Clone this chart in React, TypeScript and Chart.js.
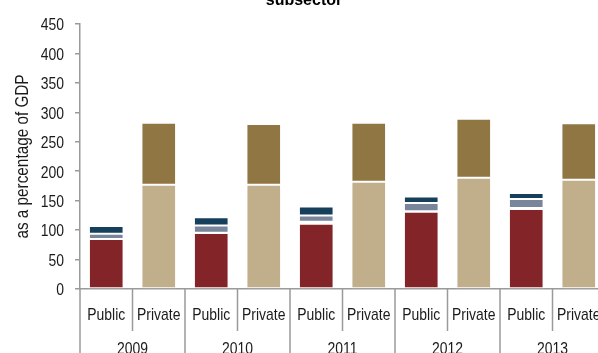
import React, { useEffect, useRef } from "react";
import { Chart, registerables } from "chart.js";

Chart.register(...registerables);

const years = ["2009", "2010", "2011", "2012", "2013"];
const sectors = ["Public", "Private"];
const yTicks = [0, 50, 100, 150, 200, 250, 300, 350, 400, 450];
const yTitle = "as a percentage of GDP";
const chartTitle = "subsector";

// Public sector components
const publicRed = [85, 95, 111, 131, 136];
const publicLight = [0, 0.5, 3, 1, 1.5];
const publicGray = [9, 12.5, 11, 14, 15.5];
const publicNavy = [13, 14, 15, 11, 10];
// Private sector components
const privateBeige = [177, 177, 182, 189, 185.5];
const privateOlive = [105.5, 103, 100.5, 100, 96];

const FONT = "'Liberation Sans', Arial, sans-serif";
const NARROW = 0.82;
const TEXT = "#1a1a1a";

const categories: string[] = [];
years.forEach(() => sectors.forEach((s) => categories.push(s)));

function interleave(vals: number[], slot: number): (number | null)[] {
  const out: (number | null)[] = [];
  vals.forEach((v) => {
    for (let i = 0; i < sectors.length; i++) out.push(i === slot ? v : null);
  });
  return out;
}

function narrowText(ctx: any, text: string, x: number, y: number, align: string, sx: number, rot = 0) {
  ctx.save();
  ctx.translate(x, y);
  if (rot) ctx.rotate(rot);
  ctx.scale(sx, 1);
  ctx.textAlign = align;
  ctx.textBaseline = "alphabetic";
  ctx.fillText(text, 0, 0);
  ctx.restore();
}

const decorPlugin = {
  id: "decor",
  afterDraw(chart: any) {
    const { ctx, chartArea } = chart;
    const x = chart.scales.x;
    const y = chart.scales.y;
    const n = categories.length;
    const step = x.getPixelForValue(1) - x.getPixelForValue(0);
    ctx.save();
    // category separators
    ctx.strokeStyle = "#9a9a9a";
    ctx.lineWidth = 1.5;
    for (let i = 0; i <= n; i++) {
      const px = x.getPixelForValue(0) - step / 2 + i * step;
      const isYear = i % sectors.length === 0;
      ctx.beginPath();
      ctx.moveTo(px, chartArea.bottom);
      ctx.lineTo(px, isYear ? chart.height : chartArea.bottom + 42);
      ctx.stroke();
    }
    ctx.fillStyle = TEXT;
    ctx.font = `17px ${FONT}`;
    // y tick labels
    yTicks.forEach((v) => {
      narrowText(ctx, String(v), chartArea.left - 16, y.getPixelForValue(v) + 6.3, "right", NARROW);
    });
    // sector labels
    categories.forEach((c, i) => {
      narrowText(ctx, c, x.getPixelForValue(i), chartArea.bottom + 30.5, "center", NARROW);
    });
    // year labels
    years.forEach((yr, gi) => {
      const c = (x.getPixelForValue(gi * 2) + x.getPixelForValue(gi * 2 + 1)) / 2;
      narrowText(ctx, yr, c, chartArea.bottom + 65, "center", NARROW);
    });
    // y axis title
    ctx.font = `18px ${FONT}`;
    narrowText(ctx, yTitle, 28, (chartArea.top + chartArea.bottom) / 2, "center", 0.85, -Math.PI / 2);
    // chart title (top part cropped)
    ctx.font = `bold 16px ${FONT}`;
    ctx.fillStyle = "#000";
    ctx.textAlign = "center";
    ctx.textBaseline = "alphabetic";
    ctx.fillText(chartTitle, chart.width / 2, 5);
    ctx.restore();
  },
};

export default function App() {
  const ref = useRef<HTMLCanvasElement | null>(null);
  useEffect(() => {
    document.body.style.margin = "0";
    document.body.style.overflow = "hidden";
    if (!ref.current) return;
    const mk = (label: string, vals: number[], slot: number, color: string) => ({
      label,
      data: interleave(vals, slot),
      backgroundColor: color,
      borderColor: "#ffffff",
      borderWidth: 1,
      borderSkipped: false,
      barPercentage: 0.66,
      categoryPercentage: 1,
    });
    const chart = new Chart(ref.current, {
      type: "bar",
      data: {
        labels: categories,
        datasets: [
          mk("Public red", publicRed, 0, "#832429"),
          mk("Public light", publicLight, 0, "#ddd3d6"),
          mk("Public gray", publicGray, 0, "#78859b"),
          mk("Public navy", publicNavy, 0, "#163f5c"),
          mk("Private beige", privateBeige, 1, "#c1af8c"),
          mk("Private olive", privateOlive, 1, "#8f7643"),
        ],
      },
      options: {
        responsive: false,
        animation: false,
        layout: { padding: { top: 24, left: 0, right: 3, bottom: 0 } },
        plugins: { legend: { display: false }, tooltip: { enabled: false }, title: { display: false } },
        scales: {
          x: {
            stacked: true,
            grid: { display: false, drawTicks: false },
            border: { display: true, color: "#9a9a9a", width: 1.5 },
            ticks: { display: false },
            afterFit: (s: any) => { s.height = 64; },
          },
          y: {
            stacked: true,
            min: 0,
            max: 450,
            afterBuildTicks: (s: any) => { s.ticks = yTicks.map((v) => ({ value: v })); },
            grid: { drawOnChartArea: false, drawTicks: true, tickLength: 5, color: "#9a9a9a", lineWidth: 1.5 },
            border: { display: true, color: "#9a9a9a", width: 1.5 },
            ticks: { display: false },
            afterFit: (s: any) => { s.width = 80; },
          },
        },
      },
      plugins: [decorPlugin],
    });
    return () => chart.destroy();
  }, []);
  return (
    <div style={{ width: 598, height: 353, overflow: "hidden", position: "relative", background: "#fff" }}>
      <canvas ref={ref} width={608} height={353} style={{ display: "block" }} />
    </div>
  );
}
